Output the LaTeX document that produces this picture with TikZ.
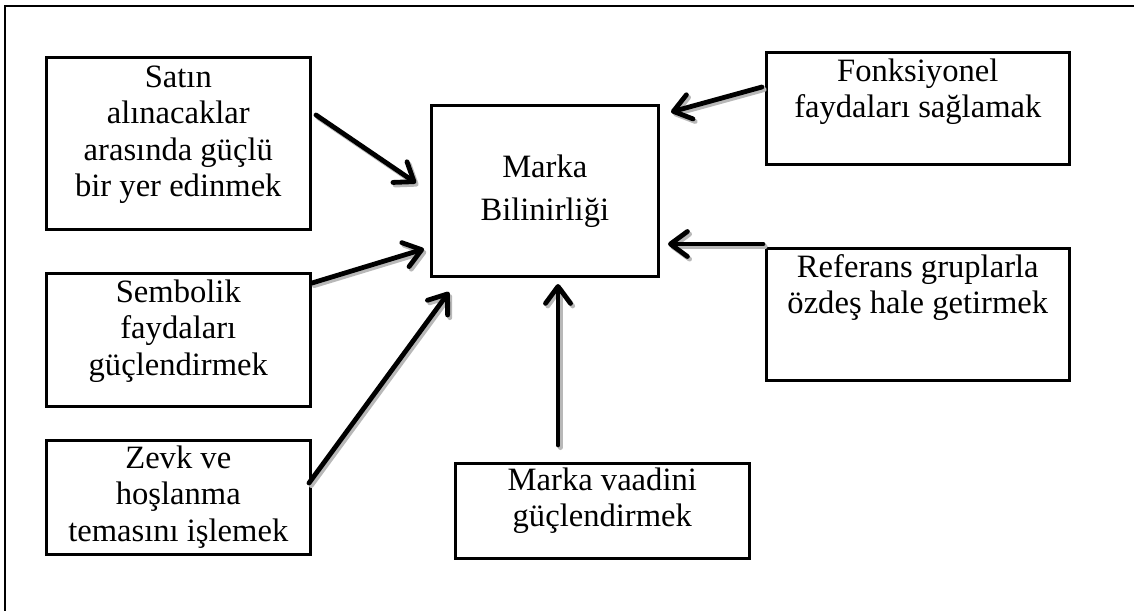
\documentclass[tikz,border=0pt]{standalone}
\usepackage{fontspec}
\setmainfont{Liberation Serif}
\usetikzlibrary{arrows.meta,calc}

% first-line strut: the top of every text block sits a fixed height above its first baseline
\newcommand\firstline{\rule{0pt}{28.5pt}}

\tikzset{
  frameline/.style={line width=2.2pt, line cap=rect},
  box/.style={draw, line width=2.6pt, inner sep=0pt, anchor=north west},
  boxtext/.style={inner sep=0pt, anchor=north, align=center,
    font=\fontsize{32.6}{36.5}\selectfont},
  arr/.style={line width=4.8pt, line cap=round,
    -{Straight Barb[length=17pt, width=25pt, line cap=round, line join=round]}},
  arrshadow/.style={arr, draw=black!28, transform canvas={shift={(2.2,2.6)}}},
}

\begin{document}
\begin{tikzpicture}[x=1pt, y=-1pt]
  \useasboundingbox (0,0) rectangle (1134,610);

  % outer frame (only its top and left edges fall on the page)
  \draw[frameline] (5,640) -- (5,6) -- (1160,6);

  % boxes
  \node[box, minimum width=264pt, minimum height=172pt] (buy)  at (45,56)  {};
  \node[box, minimum width=227pt, minimum height=171pt] (core) at (430,104) {};
  \node[box, minimum width=303pt, minimum height=112pt] (func) at (765,51)  {};
  \node[box, minimum width=303pt, minimum height=132pt] (ref)  at (765,247) {};
  \node[box, minimum width=264pt, minimum height=133pt] (sym)  at (45,272) {};
  \node[box, minimum width=264pt, minimum height=114pt] (joy)  at (45,439) {};
  \node[box, minimum width=294pt, minimum height=95pt]  (prom) at (454,462) {};

  % texts, hung from the top edge of each box
  \node[boxtext] (buyT)  at ($(buy.north)+(0,2.5)$)
    {\firstline Satın\\alınacaklar\\arasında güçlü\\bir yer edinmek};
  \node[boxtext, font=\fontsize{32.6}{43}\selectfont] (coreT) at ($(core.north)+(0,44.5)$)
    {\firstline Marka\\Bilinirliği};
  \node[boxtext] (funcT) at ($(func.north)+(0,1.5)$)
    {\firstline Fonksiyonel\\faydaları sağlamak};
  \node[boxtext] (refT)  at ($(ref.north)+(0,1.5)$)
    {\firstline Referans gruplarla\\özdeş hale getirmek};
  \node[boxtext] (symT)  at ($(sym.north)+(0,1.5)$)
    {\firstline Sembolik\\faydaları\\güçlendirmek};
  \node[boxtext] (joyT)  at ($(joy.north)+(0,0.5)$)
    {\firstline Zevk ve\\hoşlanma\\temasını işlemek};
  \node[boxtext] (promT) at ($(prom.north)+(0,-0.5)$)
    {\firstline Marka vaadini\\güçlendirmek};

  % arrow ends
  \coordinate (buyA)  at (316,115);   \coordinate (buyB)  at (416,183);
  \coordinate (symA)  at (312,283);   \coordinate (symB)  at (424,249);
  \coordinate (joyA)  at (309,483);   \coordinate (joyB)  at (449,292);
  \coordinate (promA) at (558,445);   \coordinate (promB) at (558,284);
  \coordinate (funcA) at (762,87);    \coordinate (funcB) at (671,112);
  \coordinate (refA)  at (763,244);   \coordinate (refB)  at (668,244);

  % shadows first, then the arrows
  \foreach \s in {buy,sym,joy,prom,func,ref}{
    \draw[arrshadow] (\s A) -- (\s B);
  }
  \foreach \s in {buy,sym,joy,prom,func,ref}{
    \draw[arr] (\s A) -- (\s B);
  }
\end{tikzpicture}
\end{document}
